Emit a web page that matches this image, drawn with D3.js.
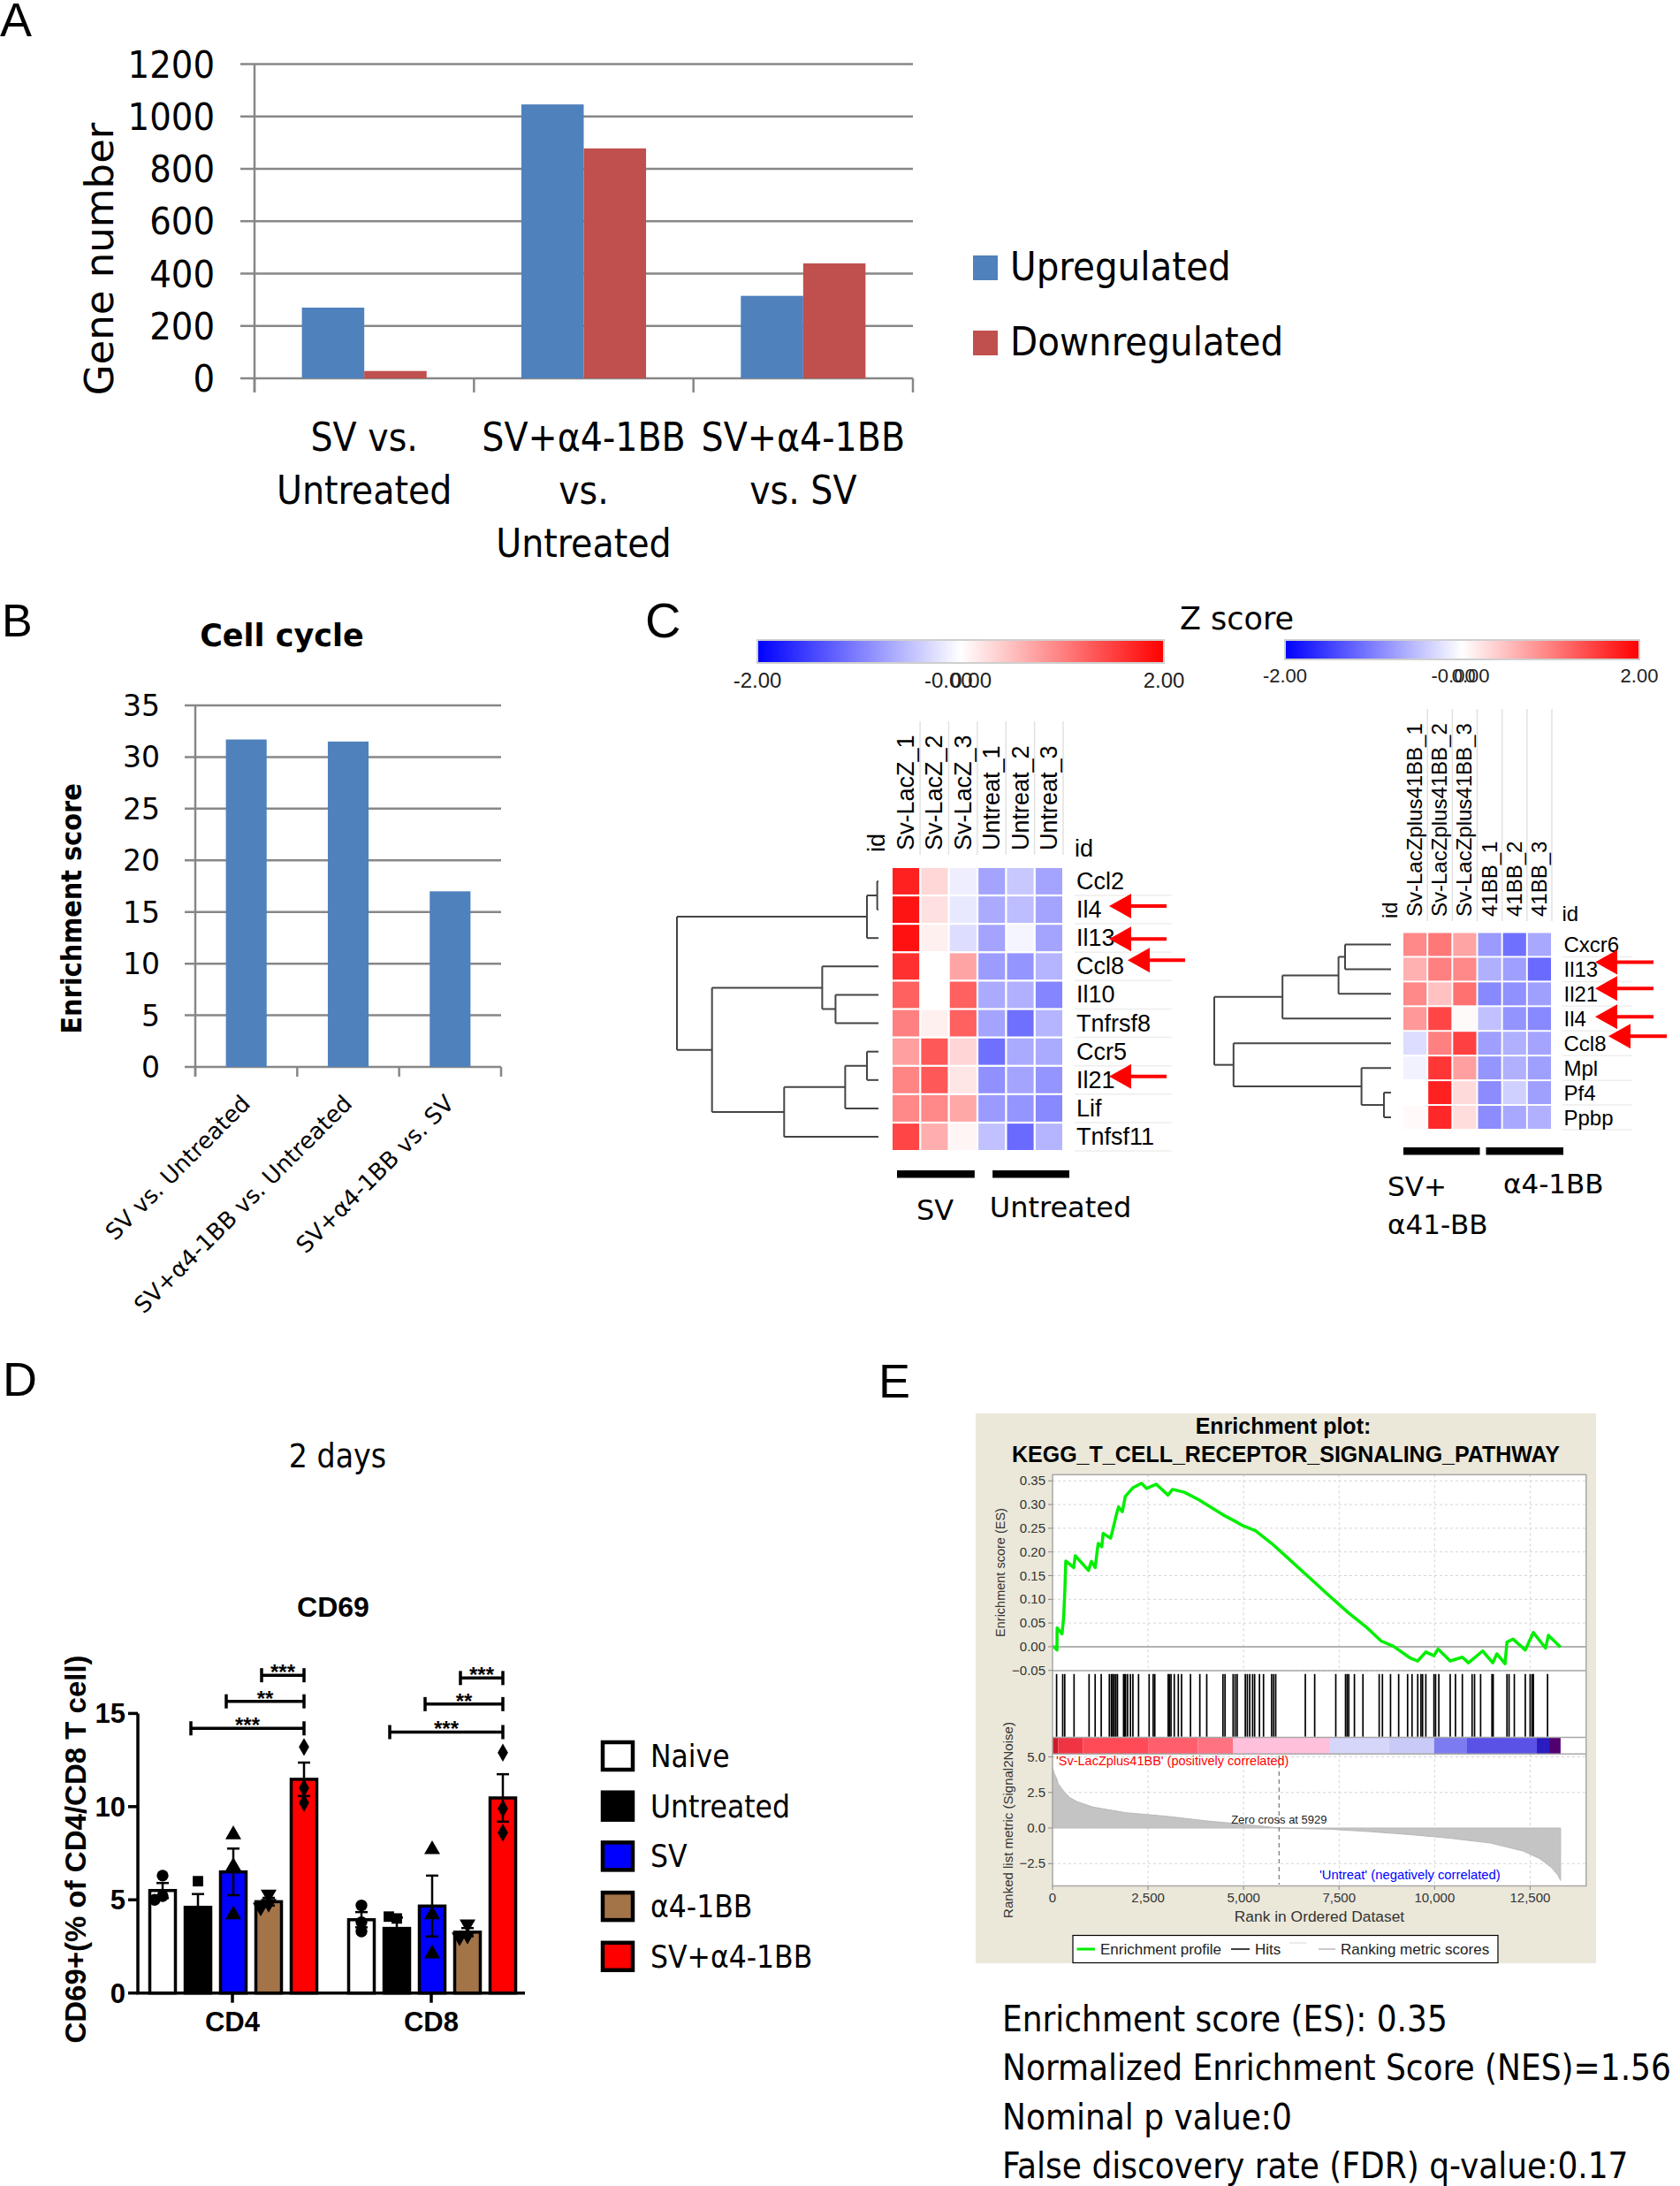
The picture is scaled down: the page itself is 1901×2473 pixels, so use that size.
<!DOCTYPE html>
<html>
<head>
<meta charset="utf-8">
<script src="https://cdn.jsdelivr.net/npm/d3@7"></script>
<style>body{margin:0;background:#fff}</style>
</head>
<body>
<div id="fig"></div>
<script>
// ---------- data ----------
// A: differentially expressed genes
const aCategories = [["SV vs.", "Untreated"], ["SV+α4-1BB", "vs.", "Untreated"], ["SV+α4-1BB", "vs. SV"]]
const aSeries = ["Upregulated", "Downregulated"]
const aUp = [270, 1046, 315]
const aDown = [28, 878, 439]
const aTicks = [0, 200, 400, 600, 800, 1000, 1200]

// B: cell cycle enrichment
const bCategories = ["SV vs. Untreated", "SV+α4-1BB vs. Untreated", "SV+α4-1BB vs. SV"]
const bScores = [31.7, 31.5, 17.0]
const bTicks = [0, 5, 10, 15, 20, 25, 30, 35]

// C: heatmaps (z scores)
const zTicks = [-2, 0, 2]
const hm1Samples = ["Sv-LacZ_1", "Sv-LacZ_2", "Sv-LacZ_3", "Untreat_1", "Untreat_2", "Untreat_3"]
const hm1Genes = ["Ccl2", "Il4", "Il13", "Ccl8", "Il10", "Tnfrsf8", "Ccr5", "Il21", "Lif", "Tnfsf11"]
const hm1Values = [
  [1.75, 0.31, -0.13, -0.71, -0.43, -0.71],
  [1.84, 0.24, -0.18, -0.67, -0.52, -0.71],
  [1.87, 0.12, -0.27, -0.71, -0.08, -0.71],
  [1.62, 0.0, 0.71, -0.78, -0.83, -0.58],
  [1.25, 0.0, 1.25, -0.67, -0.62, -0.96],
  [1.0, 0.12, 1.25, -0.71, -1.12, -0.58],
  [0.75, 1.31, 0.33, -1.12, -0.67, -0.67],
  [0.96, 1.31, 0.2, -0.87, -0.71, -0.83],
  [0.93, 0.93, 0.68, -0.79, -0.83, -0.93],
  [1.46, 0.64, 0.08, -0.49, -1.17, -0.58]
]
const hm1Tree = {h: 1, children: [
  {h: 0.057, children: [{h: 0.006, children: [{name: "Ccl2"}, {name: "Il4"}]}, {name: "Il13"}]},
  {h: 0.826, children: [
    {h: 0.279, children: [{name: "Ccl8"}, {h: 0.213, children: [{name: "Il10"}, {name: "Tnfrsf8"}]}]},
    {h: 0.468, children: [{h: 0.165, children: [{h: 0.057, children: [{name: "Ccr5"}, {name: "Il21"}]}, {name: "Lif"}]}, {name: "Tnfsf11"}]}
  ]}
]}
const hm1Arrows = ["Il4", "Il13", "Ccl8", "Il21"]
const hm1GroupLabels = ["SV", "Untreated"]
const hm1GroupSpans = [[0, 2], [3, 5]]

const hm2Samples = ["Sv-LacZplus41BB_1", "Sv-LacZplus41BB_2", "Sv-LacZplus41BB_3", "41BB_1", "41BB_2", "41BB_3"]
const hm2Genes = ["Cxcr6", "Il13", "Il21", "Il4", "Ccl8", "Mpl", "Pf4", "Ppbp"]
const hm2Values = [
  [0.93, 1.06, 0.71, -0.79, -1.12, -0.68],
  [0.62, 1.0, 0.93, -0.62, -0.75, -1.17],
  [0.93, 0.49, 1.12, -0.93, -0.87, -0.75],
  [0.8, 1.46, 0.04, -0.49, -0.84, -0.93],
  [-0.27, 1.0, 1.5, -0.75, -0.62, -0.71],
  [-0.1, 1.58, 0.75, -0.83, -0.62, -0.75],
  [0.0, 1.75, 0.29, -0.9, -0.37, -0.75],
  [0.05, 1.69, 0.27, -0.9, -0.68, -0.62]
]
const hm2Tree = {h: 1, children: [
  {h: 0.614, children: [{h: 0.297, children: [{h: 0.26, children: [{name: "Cxcr6"}, {name: "Il13"}]}, {name: "Il21"}]}, {name: "Il4"}]},
  {h: 0.891, children: [{name: "Ccl8"}, {h: 0.167, children: [{name: "Mpl"}, {h: 0.04, children: [{name: "Pf4"}, {name: "Ppbp"}]}]}]}
]}
const hm2Arrows = ["Il13", "Il21", "Il4", "Ccl8"]
const hm2GroupSpans = [[0, 2], [3, 5]]

// D: CD69+ (% of CD4/CD8 T cells), three mice per group
const dGroups = ["CD4", "CD8"]
const dTreatments = ["Naive", "Untreated", "SV", "α4-1BB", "SV+α4-1BB"]
const dCD4Points = [[6.3, 5.2, 5.0], [6.0, 4.1, 3.7], [8.5, 6.8, 4.2], [5.3, 4.8, 4.6], [13.2, 11.0, 10.2]]
const dCD8Points = [[4.7, 3.8, 3.3], [4.0, 4.1, 2.3], [7.7, 4.2, 2.1], [3.7, 3.1, 3.0], [12.9, 9.9, 8.6]]
const dComparisons = [["Untreated", "***"], ["SV", "**"], ["α4-1BB", "***"]]
const dCD4BracketLevels = [14.2, 15.65, 17.05]
const dCD8BracketLevels = [14.0, 15.5, 16.9]
const dTicks = [0, 5, 10, 15]

// E: GSEA, KEGG T cell receptor signaling pathway
const esRank = [0, 39, 116, 120, 248, 290, 325, 347, 555, 594, 941, 1018, 1117, 1173, 1196, 1288, 1325, 1520, 1580, 1672,
  1728, 1827, 1904, 2098, 2329, 2459, 2713, 3023, 3139, 3447, 3833, 4448, 4795, 4991, 5310, 5735, 6160, 6691, 7222, 7753,
  8231, 8602, 8921, 9346, 9558, 9770, 9983, 10089, 10408, 10726, 10886, 11257, 11523, 11629, 11842, 11894, 12054, 12373, 12585, 12904,
  12978, 13297]
const esScore = [0, 0, -0.007, 0.040, 0.027, 0.061, 0.124, 0.181, 0.167, 0.192, 0.161, 0.18, 0.167, 0.205, 0.218, 0.211, 0.239, 0.229, 0.248, 0.279,
  0.295, 0.285, 0.317, 0.335, 0.345, 0.334, 0.343, 0.32, 0.332, 0.326, 0.31, 0.279, 0.264, 0.255, 0.245, 0.218, 0.187, 0.148, 0.109, 0.071,
  0.04, 0.012, 0.001, -0.023, -0.03, -0.011, -0.019, -0.005, -0.03, -0.022, -0.034, -0.009, -0.034, -0.015, -0.036, 0.01, 0.016, -0.007, 0.03, -0.003,
  0.024, -0.001]
const hitRanks = [106, 266, 319, 563, 956, 1115, 1274, 1487, 1540, 1572, 1614, 1657, 1699, 1859, 1890, 1912, 1965, 2039, 2103, 2251,
  2528, 2634, 2676, 3027, 3059, 3101, 3186, 3292, 3377, 3611, 3855, 4036, 4460, 4514, 4726, 4779, 4832, 5045, 5098, 5161,
  5236, 5289, 5416, 5522, 5735, 5788, 5841, 6616, 6861, 7413, 7668, 7710, 7753, 7901, 8124, 8549, 8634, 8846, 9059, 9293,
  9409, 9558, 9643, 9685, 9770, 9983, 10025, 10110, 10408, 10546, 10726, 10981, 11045, 11204, 11501, 11533, 11894, 11948, 12086, 12373,
  12500, 12553, 12585, 12956]
const metricRank = [0, 50, 106, 150, 319, 450, 637, 1062, 1912, 2974, 4036, 5098, 5929, 7222, 8284, 9346, 10408, 11470, 12319, 12744, 13063, 13222, 13297]
const metricValue = [4.2, 3.8, 3.5, 3.1, 2.5, 2.15, 1.86, 1.47, 1.08, 0.83, 0.5, 0.24, 0, -0.08, -0.25, -0.46, -0.72, -1.06, -1.62, -2.14, -2.79, -3.3, -3.69]
const stripStart = [0, 150, 800, 2500, 3800, 4719, 7240, 8800, 9985, 10848, 12676, 13000]
const stripColor = ["#d01828", "#f03444", "#ff4a58", "#ff5e6c", "#ff7282", "#ffc0dc", "#d6d6fa", "#cacaf8", "#7c7cf0", "#5a52e6", "#2a1cc0", "#520070"]
const stripEnd = 13297
const zeroCross = 5929
const esTicks = [-0.05, 0, 0.05, 0.1, 0.15, 0.2, 0.25, 0.3, 0.35]
const metricTicks = [-2.5, 0, 2.5, 5]
const rankTicks = [0, 2500, 5000, 7500, 10000, 12500]
const gseaStats = ["Enrichment score (ES): 0.35", "Normalized Enrichment Score (NES)=1.56", "Nominal p value:0", "False discovery rate (FDR) q-value:0.17"]

// ---------- setup ----------
const W = 1901, H = 2473
const svg = d3.select("#fig").append("svg").attr("width", W).attr("height", H).style("display", "block")
svg.append("rect").attr("width", W).attr("height", H).attr("fill", "#fff")

const fCond = "'DejaVu Sans Condensed','Liberation Sans Narrow',sans-serif"
const fWide = "'DejaVu Sans',Verdana,sans-serif"
const fArial = "'Liberation Sans',Arial,Helvetica,sans-serif"

function txt(g, x, y, s, size, o = {}) {
    const t = g.append("text").attr("x", x).attr("y", y).text(s)
        .attr("font-size", size).attr("font-family", o.family || fArial)
        .attr("text-anchor", o.anchor || "start").attr("fill", o.fill || "#000")
    if (o.weight) t.attr("font-weight", o.weight)
    if (o.cond) t.style("font-stretch", "condensed")
    if (o.rotate) t.attr("transform", `rotate(${o.rotate},${x},${y})`)
    return t
}

// panel letters
txt(svg, 0, 41, "A", 54)
txt(svg, 2, 720, "B", 52)
txt(svg, 730, 721, "C", 56)
txt(svg, 3, 1579, "D", 54)
txt(svg, 994, 1581, "E", 54)

// ---------- A ----------
const gA = svg.append("g")
const xA = d3.scaleBand().domain(d3.range(aCategories.length)).range([288, 1033])
const xA2 = d3.scaleBand().domain(aSeries).range([0, xA.bandwidth()]).paddingOuter(0.76)
const yA = d3.scaleLinear().domain([0, 1200]).range([428, 72.5])
const aColors = {Upregulated: "#4f81bd", Downregulated: "#c0504d"}

gA.selectAll("line.grid").data(aTicks).join("line").attr("class", "grid")
    .attr("x1", 272).attr("x2", 1033).attr("y1", d => yA(d)).attr("y2", d => yA(d))
    .attr("stroke", "#878787").attr("stroke-width", 2.5)
aTicks.forEach(t => txt(gA, 243, yA(t) + 15, t, 43, {family: fCond, anchor: "end", cond: true}))

const aRows = aCategories.map((c, i) => ({i, Upregulated: aUp[i], Downregulated: aDown[i]}))
gA.selectAll("g.cat").data(aRows).join("g").attr("class", "cat")
    .attr("transform", d => `translate(${xA(d.i)},0)`)
    .selectAll("rect").data(d => aSeries.map(s => ({s, v: d[s]}))).join("rect")
    .attr("x", d => xA2(d.s)).attr("width", xA2.bandwidth())
    .attr("y", d => yA(d.v)).attr("height", d => yA(0) - yA(d.v))
    .attr("fill", d => aColors[d.s])

gA.append("line").attr("x1", 288).attr("x2", 288).attr("y1", yA(1200)).attr("y2", yA(0) + 16)
    .attr("stroke", "#878787").attr("stroke-width", 2.5)
d3.range(aCategories.length + 1).forEach(i => {
    const x = i < aCategories.length ? xA(i) : 1033
    gA.append("line").attr("x1", x).attr("x2", x).attr("y1", yA(0)).attr("y2", yA(0) + 16)
        .attr("stroke", "#878787").attr("stroke-width", 2.5)
})
aCategories.forEach((lines, i) => {
    lines.forEach((l, j) => txt(gA, xA(i) + xA.bandwidth() / 2, 510 + j * 60, l, 44, {family: fCond, anchor: "middle", cond: true}))
})
txt(gA, 128, 293, "Gene number", 45, {family: fWide, anchor: "middle", rotate: -90})
aSeries.forEach((s, i) => {
    gA.append("rect").attr("x", 1101).attr("y", 289 + i * 85).attr("width", 28).attr("height", 28).attr("fill", aColors[s])
    txt(gA, 1143, 317 + i * 85, s, 45, {family: fCond, cond: true})
})

// ---------- B ----------
const gB = svg.append("g")
const xB = d3.scaleBand().domain(bCategories).range([221, 567]).paddingInner(0.6).paddingOuter(0.3)
const yB = d3.scaleLinear().domain([0, 35]).range([1207, 798])
gB.selectAll("line.grid").data(bTicks).join("line")
    .attr("x1", 209).attr("x2", 567).attr("y1", d => yB(d)).attr("y2", d => yB(d))
    .attr("stroke", "#878787").attr("stroke-width", 2.5)
bTicks.forEach(t => txt(gB, 181, yB(t) + 12, t, 33, {family: fWide, anchor: "end"}))
gB.selectAll("rect").data(bCategories).join("rect")
    .attr("x", d => xB(d)).attr("width", xB.bandwidth())
    .attr("y", (d, i) => yB(bScores[i])).attr("height", (d, i) => yB(0) - yB(bScores[i]))
    .attr("fill", "#4f81bd")
gB.append("line").attr("x1", 221).attr("x2", 221).attr("y1", yB(35)).attr("y2", yB(0) + 11)
    .attr("stroke", "#878787").attr("stroke-width", 2.5)
const bStep = xB.step()
d3.range(4).forEach(i => {
    const x = 221 + i * bStep
    gB.append("line").attr("x1", x).attr("x2", x).attr("y1", yB(0)).attr("y2", yB(0) + 11)
        .attr("stroke", "#878787").attr("stroke-width", 2.5)
})
bCategories.forEach(c => txt(gB, xB(c) + xB.bandwidth() / 2 + 6, 1250, c, 26, {family: fWide, anchor: "end", rotate: -45}))
txt(gB, 319, 731, "Cell cycle", 35, {family: fWide, anchor: "middle", weight: "bold"})
txt(gB, 92, 1028, "Enrichment score", 32, {family: fCond, anchor: "middle", weight: "bold", cond: true, rotate: -90})

// ---------- C ----------
const zColor = d3.scaleLinear().domain(zTicks).range(["#0000ff", "#ffffff", "#ff0000"])
const defs = svg.append("defs")
const grad = defs.append("linearGradient").attr("id", "zgrad")
d3.range(0, 1.001, 0.05).forEach(t => grad.append("stop").attr("offset", t).attr("stop-color", zColor(-2 + 4 * t)))

function colorbar(x0, x1, y0, h, fs, midL, midR) {
    const g = svg.append("g")
    const s = d3.scaleLinear().domain([-2, 2]).range([x0, x1])
    g.append("rect").attr("x", x0).attr("y", y0).attr("width", x1 - x0).attr("height", h)
        .attr("fill", "url(#zgrad)").attr("stroke", "#cfcfcf").attr("stroke-width", 2)
    const by = y0 + h + fs + 4
    txt(g, s(-2), by, "-2.00", fs, {anchor: "middle", fill: "#222"})
    txt(g, s(2), by, "2.00", fs, {anchor: "middle", fill: "#222"})
    txt(g, s(0) - midL, by, "-0.00", fs, {fill: "#222"})
    txt(g, s(0) + midR, by, "0.00", fs, {anchor: "end", fill: "#222"})
}
colorbar(857, 1317, 724, 26, 24, 41, 35)
colorbar(1454, 1855, 724, 22, 22, 35, 31)
txt(svg, 1335, 712, "Z score", 35, {family: fWide})

function drawDendro(g, tree, y, xs) {
    const root = d3.hierarchy(tree)
    root.eachAfter(n => {
        n.hh = n.children ? n.data.h : 0
        n.yy = n.children ? d3.mean(n.children, c => c.yy) : y(n.data.name) + y.bandwidth() / 2
    })
    root.descendants().filter(n => n.children).forEach(n => {
        const ys = n.children.map(c => c.yy)
        g.append("line").attr("x1", xs(n.hh)).attr("x2", xs(n.hh)).attr("y1", d3.min(ys)).attr("y2", d3.max(ys))
        n.children.forEach(c => g.append("line").attr("x1", xs(c.hh)).attr("x2", xs(n.hh)).attr("y1", c.yy).attr("y2", c.yy))
    })
    g.selectAll("line").attr("stroke", "#444").attr("stroke-width", 2)
}

function arrow(g, tip, yy, tail) {
    g.append("line").attr("x1", tip + 20).attr("x2", tail).attr("y1", yy).attr("y2", yy)
        .attr("stroke", "#ff0000").attr("stroke-width", 4)
    g.append("path").attr("d", `M${tip},${yy}L${tip + 25},${yy - 14}L${tip + 25},${yy + 14}Z`).attr("fill", "#ff0000")
}

function heatmap(c) {
    const g = svg.append("g")
    const x = d3.scaleBand().domain(c.samples).range(c.xr).paddingInner(0.07)
    const y = d3.scaleBand().domain(c.genes).range(c.yr).paddingInner(0.07)
    const bw = x.bandwidth(), bh = y.bandwidth()
    // header separators
    c.samples.forEach(s => g.append("line").attr("x1", x(s) + bw + 1).attr("x2", x(s) + bw + 1)
        .attr("y1", c.headTop).attr("y2", c.colY + 5).attr("stroke", "#e2e2e2").attr("stroke-width", 1.5))
    // row separators behind labels
    c.genes.forEach(gn => g.append("line").attr("x1", c.labelX - 2).attr("x2", c.sepEnd)
        .attr("y1", y(gn) + bh + 1).attr("y2", y(gn) + bh + 1).attr("stroke", "#eeeeee").attr("stroke-width", 1.5))
    c.genes.forEach((gn, i) => c.samples.forEach((s, j) => {
        g.append("rect").attr("x", x(s)).attr("y", y(gn)).attr("width", bw).attr("height", bh)
            .attr("fill", zColor(c.values[i][j]))
    }))
    c.samples.forEach(s => txt(g, x(s) + bw / 2 + c.colOff, c.colY, s, c.fs, {rotate: -90}))
    c.genes.forEach(gn => txt(g, c.labelX, y(gn) + bh / 2 + c.labOff, gn, c.fs))
    txt(g, c.idLeft, c.colY + 2, "id", c.fs, {rotate: -90})
    txt(g, c.labelX - 2, c.idRightY, "id", c.fs)
    const dg = g.append("g")
    drawDendro(dg, c.tree, y, d3.scaleLinear().domain([0, 1]).range(c.dendro))
    // group bars
    c.spans.forEach((sp, k) => {
        const x0 = x(c.samples[sp[0]]) + c.barPad[k][0], x1 = x(c.samples[sp[1]]) + bw + c.barPad[k][1]
        g.append("rect").attr("x", x0).attr("y", c.barY).attr("width", x1 - x0).attr("height", 8.5).attr("fill", "#000")
    })
    c.arrows.forEach(a => {
        const sh = c.arrowShift[a] || [0, -4]
        arrow(g, c.arrowTip + sh[0], y(a) + bh / 2 + sh[1], c.arrowTail + sh[0])
    })
    return {g, x, y}
}

const h1 = heatmap({
    samples: hm1Samples, genes: hm1Genes, values: hm1Values, tree: hm1Tree,
    xr: [1010, 1202], yr: [982, 1301], fs: 27, colOff: 9, colY: 962, headTop: 816,
    labelX: 1218, labOff: 9, sepEnd: 1326, idLeft: 1001, idRightY: 969,
    dendro: [994, 766], spans: hm1GroupSpans, barPad: [[5, -2], [16, 8]], barY: 1324,
    arrows: hm1Arrows, arrowTip: 1255, arrowTail: 1320, arrowShift: {Ccl8: [21, -7], Il13: [0, 1]}
})
txt(h1.g, 1058, 1380, hm1GroupLabels[0], 32, {family: fWide, anchor: "middle"})
txt(h1.g, 1200, 1377, hm1GroupLabels[1], 32, {family: fWide, anchor: "middle"})

const h2 = heatmap({
    samples: hm2Samples, genes: hm2Genes, values: hm2Values, tree: hm2Tree,
    xr: [1588, 1755], yr: [1055.5, 1277], fs: 24, colOff: 8, colY: 1037, headTop: 802,
    labelX: 1769.5, labOff: 8.5, sepEnd: 1847, idLeft: 1581, idRightY: 1042,
    dendro: [1574, 1374], spans: hm2GroupSpans, barPad: [[0, 4], [9, 14]], barY: 1298,
    arrows: hm2Arrows, arrowTip: 1805, arrowTail: 1871, arrowShift: {Ccl8: [15, -8], Il13: [0, -8], Il21: [0, -6], Il4: [0, -2]}
})
txt(h2.g, 1570, 1353, "SV+", 31, {family: fWide})
txt(h2.g, 1570, 1396, "α41-BB", 31, {family: fWide})
txt(h2.g, 1701, 1350, "α4-1BB", 31, {family: fWide})

// ---------- D ----------
const gD = svg.append("g")
const yD = d3.scaleLinear().domain([0, 15]).range([2254.7, 1938.4])
const xD = d3.scaleBand().domain(dGroups).range([151.5, 601.5])
const xD2 = d3.scaleBand().domain(dTreatments).range([0, xD.bandwidth()]).paddingInner(0.275).paddingOuter(0.45)
const dFill = {"Naive": "#ffffff", "Untreated": "#000000", "SV": "#0000ff", "α4-1BB": "#a47449", "SV+α4-1BB": "#ff0000"}
const dSymbol = {"Naive": d3.symbolCircle, "Untreated": d3.symbolSquare, "SV": d3.symbolTriangle, "α4-1BB": d3.symbolTriangle, "SV+α4-1BB": d3.symbolDiamond}
const dPoints = {CD4: dCD4Points, CD8: dCD8Points}
const dLevels = {CD4: dCD4BracketLevels, CD8: dCD8BracketLevels}

txt(gD, 382, 1660, "2 days", 37, {family: fCond, anchor: "middle", cond: true})
txt(gD, 377, 1829, "CD69", 32, {anchor: "middle", weight: "bold"})

function jitter(vals) {
    return vals.map((v, i) => {
        const near = vals.slice(0, i).filter(u => Math.abs(u - v) < 0.45).length
        return near === 0 ? 0 : (near % 2 ? -1 : 1) * 9 * Math.ceil(near / 2)
    })
}

dGroups.forEach(grp => {
    const gx = xD(grp)
    dTreatments.forEach((t, k) => {
        const pts = dPoints[grp][k]
        const m = d3.mean(pts), sem = d3.deviation(pts) / Math.sqrt(pts.length)
        const bx = gx + xD2(t), bw = xD2.bandwidth(), cx = bx + bw / 2
        gD.append("rect").attr("x", bx).attr("y", yD(m)).attr("width", bw).attr("height", yD(0) - yD(m))
            .attr("fill", dFill[t]).attr("stroke", "#000").attr("stroke-width", 3.5)
        const eg = gD.append("g").attr("stroke", "#000").attr("stroke-width", 2.5)
        eg.append("line").attr("x1", cx).attr("x2", cx).attr("y1", yD(m - sem)).attr("y2", yD(m + sem))
        eg.append("line").attr("x1", cx - 7).attr("x2", cx + 7).attr("y1", yD(m + sem)).attr("y2", yD(m + sem))
        eg.append("line").attr("x1", cx - 7).attr("x2", cx + 7).attr("y1", yD(m - sem)).attr("y2", yD(m - sem))
        const js = jitter(pts)
        pts.forEach((v, i) => {
            gD.append("path").attr("d", d3.symbol(dSymbol[t], t === "SV+α4-1BB" ? 120 : 140)())
                .attr("transform", `translate(${cx + js[i]},${yD(v)})` + (t === "α4-1BB" ? " rotate(180)" : ""))
                .attr("fill", "#000")
        })
    })
    // significance brackets
    const rx = gx + xD2("SV+α4-1BB") + xD2.bandwidth() / 2
    dComparisons.forEach((cmp, i) => {
        const lx = gx + xD2(cmp[0]) + xD2.bandwidth() / 2 - 8
        const yy = yD(dLevels[grp][i])
        const bg = gD.append("g").attr("stroke", "#000").attr("stroke-width", 3.5)
        bg.append("line").attr("x1", lx).attr("x2", rx).attr("y1", yy).attr("y2", yy)
        bg.append("line").attr("x1", lx).attr("x2", lx).attr("y1", yy - 8).attr("y2", yy + 8)
        bg.append("line").attr("x1", rx).attr("x2", rx).attr("y1", yy - 8).attr("y2", yy + 8)
        txt(gD, (lx + rx) / 2, yy + 5, cmp[1], 24, {anchor: "middle", weight: "bold"})
    })
})

// axes
gD.append("line").attr("x1", 156).attr("x2", 156).attr("y1", yD(15)).attr("y2", yD(0))
    .attr("stroke", "#000").attr("stroke-width", 3.5)
gD.append("line").attr("x1", 154.25).attr("x2", 594).attr("y1", yD(0)).attr("y2", yD(0))
    .attr("stroke", "#000").attr("stroke-width", 3.5)
dTicks.forEach(t => {
    gD.append("line").attr("x1", 145).attr("x2", 156).attr("y1", yD(t)).attr("y2", yD(t)).attr("stroke", "#000").attr("stroke-width", 3.5)
    txt(gD, 142, yD(t) + 11, t, 31, {anchor: "end", weight: "bold"})
})
dGroups.forEach(grp => {
    const cx = xD(grp) + xD.bandwidth() / 2 - 1
    gD.append("line").attr("x1", cx).attr("x2", cx).attr("y1", yD(0)).attr("y2", yD(0) + 11).attr("stroke", "#000").attr("stroke-width", 3.5)
    txt(gD, cx, 2298, grp, 31, {anchor: "middle", weight: "bold"})
})
txt(gD, 97, 2092, "CD69+(% of CD4/CD8 T cell)", 33, {anchor: "middle", weight: "bold", rotate: -90})
dTreatments.forEach((t, i) => {
    const ly = 1971 + i * 56.7
    gD.append("rect").attr("x", 682).attr("y", ly).attr("width", 34).attr("height", 31)
        .attr("fill", dFill[t]).attr("stroke", "#000").attr("stroke-width", 4.5)
    txt(gD, 736, ly + 28, t, 35, {family: fCond, cond: true})
})

// ---------- E ----------
const gE = svg.append("g")
const xE = d3.scaleLinear().domain([0, 13966]).range([1191, 1794.8])
const yES = d3.scaleLinear().domain([-0.0505, 0.363]).range([1890, 1668.3])
const yM = d3.scaleLinear().domain([-4.07, 5.21]).range([2133.5, 1984.2])
const eLeft = 1191, eRight = 1794.8

gE.append("rect").attr("x", 1104).attr("y", 1599).attr("width", 702).attr("height", 622).attr("fill", "#ebe8da")
gE.append("rect").attr("x", eLeft).attr("y", 1668.3).attr("width", eRight - eLeft).attr("height", 2133.5 - 1668.3).attr("fill", "#fff")
txt(gE, 1452, 1622, "Enrichment plot:", 25, {anchor: "middle", weight: "bold"})
txt(gE, 1455, 1654, "KEGG_T_CELL_RECEPTOR_SIGNALING_PATHWAY", 25, {anchor: "middle", weight: "bold"})

// grids
const gridE = gE.append("g").attr("stroke", "#d4d4d4").attr("stroke-width", 1).attr("stroke-dasharray", "3,3")
esTicks.filter(t => t !== 0).forEach(t => gridE.append("line").attr("x1", eLeft).attr("x2", eRight).attr("y1", yES(t)).attr("y2", yES(t)))
metricTicks.filter(t => t !== 0).forEach(t => gridE.append("line").attr("x1", eLeft).attr("x2", eRight).attr("y1", yM(t)).attr("y2", yM(t)))
rankTicks.slice(1).forEach(r => {
    gridE.append("line").attr("x1", xE(r)).attr("x2", xE(r)).attr("y1", 1668.3).attr("y2", 1890)
    gridE.append("line").attr("x1", xE(r)).attr("x2", xE(r)).attr("y1", 1984.2).attr("y2", 2133.5)
})
gE.append("line").attr("x1", eLeft).attr("x2", eRight).attr("y1", yES(0)).attr("y2", yES(0)).attr("stroke", "#999").attr("stroke-width", 1.5)

// enrichment curve
gE.append("path").datum(d3.zip(esRank, esScore))
    .attr("d", d3.line().x(d => xE(d[0])).y(d => yES(d[1])))
    .attr("fill", "none").attr("stroke", "#00ee00").attr("stroke-width", 3.5).attr("stroke-linejoin", "round")

// hits
gE.selectAll("line.hit").data(hitRanks).join("line").attr("class", "hit")
    .attr("x1", d => xE(d)).attr("x2", d => xE(d)).attr("y1", 1893.8).attr("y2", 1964.8)
    .attr("stroke", "#000").attr("stroke-width", 1.7)

// ranked-list colour strip
stripStart.forEach((s, i) => {
    const e = i < stripStart.length - 1 ? stripStart[i + 1] : stripEnd
    gE.append("rect").attr("x", xE(s)).attr("y", 1965.6).attr("width", xE(e) - xE(s)).attr("height", 18.6).attr("fill", stripColor[i])
})

// ranking metric
gE.append("path").datum(d3.zip(metricRank, metricValue))
    .attr("d", d3.area().x(d => xE(d[0])).y0(yM(0)).y1(d => yM(d[1])))
    .attr("fill", "#c4c4c4").attr("stroke", "#b8b8b8").attr("stroke-width", 1)
gE.append("line").attr("x1", xE(zeroCross)).attr("x2", xE(zeroCross)).attr("y1", 1986).attr("y2", 2132)
    .attr("stroke", "#777").attr("stroke-width", 1.2).attr("stroke-dasharray", "5,4")
txt(gE, xE(zeroCross), 2063, "Zero cross at " + zeroCross, 13, {anchor: "middle", fill: "#222"})
txt(gE, 1195, 1997, "'Sv-LacZplus41BB' (positively correlated)", 14.5, {fill: "#ff0000"})
txt(gE, 1493, 2126, "'Untreat' (negatively correlated)", 14.8, {fill: "#0000ff"})

// frames
const fr = gE.append("g").attr("fill", "none").attr("stroke", "#a8a8a8").attr("stroke-width", 1.5)
fr.append("rect").attr("x", eLeft).attr("y", 1668.3).attr("width", eRight - eLeft).attr("height", 2133.5 - 1668.3)
;[1890, 1965.6, 1984.2].forEach(yy => fr.append("line").attr("x1", eLeft).attr("x2", eRight).attr("y1", yy).attr("y2", yy))

// axes text
esTicks.forEach(t => {
    gE.append("line").attr("x1", eLeft - 5).attr("x2", eLeft).attr("y1", yES(t)).attr("y2", yES(t)).attr("stroke", "#888")
    txt(gE, 1183, yES(t) + 5, d3.format(".2f")(t), 15, {anchor: "end", fill: "#333"})
})
metricTicks.forEach(t => {
    gE.append("line").attr("x1", eLeft - 5).attr("x2", eLeft).attr("y1", yM(t)).attr("y2", yM(t)).attr("stroke", "#888")
    txt(gE, 1183, yM(t) + 5, d3.format(".1f")(t), 15, {anchor: "end", fill: "#333"})
})
rankTicks.forEach(r => {
    gE.append("line").attr("x1", xE(r)).attr("x2", xE(r)).attr("y1", 2133.5).attr("y2", 2138).attr("stroke", "#888")
    txt(gE, xE(r), 2152, d3.format(",")(r), 15, {anchor: "middle", fill: "#333"})
})
txt(gE, 1493, 2174, "Rank in Ordered Dataset", 17.4, {anchor: "middle", fill: "#333"})
txt(gE, 1137, 1779, "Enrichment score (ES)", 14.5, {anchor: "middle", fill: "#333", rotate: -90})
txt(gE, 1146, 2059, "Ranked list metric (Signal2Noise)", 15, {anchor: "middle", fill: "#333", rotate: -90})

// legend
gE.append("rect").attr("x", 1214).attr("y", 2189.5).attr("width", 481).attr("height", 31).attr("fill", "#fff").attr("stroke", "#000").attr("stroke-width", 1.2)
gE.append("line").attr("x1", 1218.5).attr("x2", 1239).attr("y1", 2205).attr("y2", 2205).attr("stroke", "#00ee00").attr("stroke-width", 3)
txt(gE, 1245, 2211, "Enrichment profile", 17, {fill: "#222"})
gE.append("line").attr("x1", 1393).attr("x2", 1414).attr("y1", 2205).attr("y2", 2205).attr("stroke", "#000").attr("stroke-width", 1.5)
txt(gE, 1420, 2211, "Hits", 17, {fill: "#222"})
gE.append("line").attr("x1", 1459).attr("x2", 1478).attr("y1", 2198).attr("y2", 2198).attr("stroke", "#d8d8d8").attr("stroke-width", 1)
gE.append("line").attr("x1", 1492).attr("x2", 1511).attr("y1", 2205).attr("y2", 2205).attr("stroke", "#bbbbbb").attr("stroke-width", 1.5)
txt(gE, 1517, 2211, "Ranking metric scores", 17, {fill: "#222"})

// statistics
gseaStats.forEach((s, i) => txt(svg, 1134, 2298 + i * 55.4, s, 40, {family: fCond, cond: true}))
</script>
</body>
</html>
